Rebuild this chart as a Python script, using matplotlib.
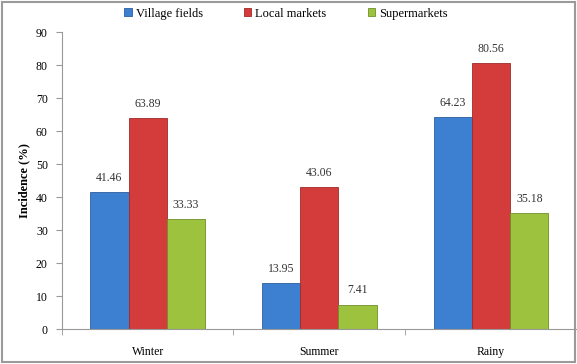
import numpy as np
import matplotlib.pyplot as plt
from matplotlib.patches import Rectangle

seasons = ['Winter', 'Summer', 'Rainy']
series_names = ['Village fields', 'Local markets', 'Supermarkets']
village_fields = [41.46, 13.95, 64.23]
local_markets = [63.89, 43.06, 80.56]
supermarkets = [33.33, 7.41, 35.18]

colors = ['#3d7fd0', '#d43b3b', '#9cc23e']
edges = ['#2c5f9e', '#9e2a2a', '#6f8f2a']

plt.rcParams['font.family'] = ['Liberation Serif', 'DejaVu Serif']

fig = plt.figure(figsize=(5.77, 3.64), dpi=100)
ax = fig.add_axes([0.107, 0.096, 0.893, 0.816])

# outer frame of the chart
fig.patches.append(Rectangle((0.004, 0.006), 0.992, 0.988, transform=fig.transFigure,
                             fill=False, edgecolor='#9a9a9a', linewidth=1.5))

x = np.arange(len(seasons))
width = 0.222
all_series = [village_fields, local_markets, supermarkets]
for i, vals in enumerate(all_series):
    pos = x + (i - 1) * width
    ax.bar(pos, vals, width, color=colors[i], edgecolor=edges[i], linewidth=0.6,
           label=series_names[i], zorder=2)
    for p, v in zip(pos, vals):
        ax.text(p, v + 2.5, f'{v:.2f}', ha='center', va='bottom', fontsize=8.5, color='#333333')

ax.set_xlim(-0.5, 2.5)
ax.set_ylim(0, 90)
ax.set_yticks(range(0, 91, 10))
ax.set_xticks(x)
ax.set_xticklabels(seasons, fontsize=8.5)
ax.set_xticks([-0.5, 0.5, 1.5, 2.5], minor=True)
ax.tick_params(axis='x', which='major', length=0, pad=12)
ax.tick_params(axis='x', which='minor', length=4, color='#999999')
ax.tick_params(axis='y', labelsize=8.5, length=4, color='#999999', pad=6)
for s in ['top', 'right']:
    ax.spines[s].set_visible(False)
for s in ['left', 'bottom']:
    ax.spines[s].set_color('#999999')
ax.set_ylabel('Incidence (%)', fontsize=9, fontweight='bold', labelpad=4)

ax.legend(loc='upper center', bbox_to_anchor=(0.435, 1.12), ncol=3, frameon=False,
          prop={'family': ['Liberation Serif'], 'size': 9}, handlelength=0.6,
          handleheight=0.6, columnspacing=3.3, handletextpad=0.3)

fig.savefig('out.png', dpi=100)
